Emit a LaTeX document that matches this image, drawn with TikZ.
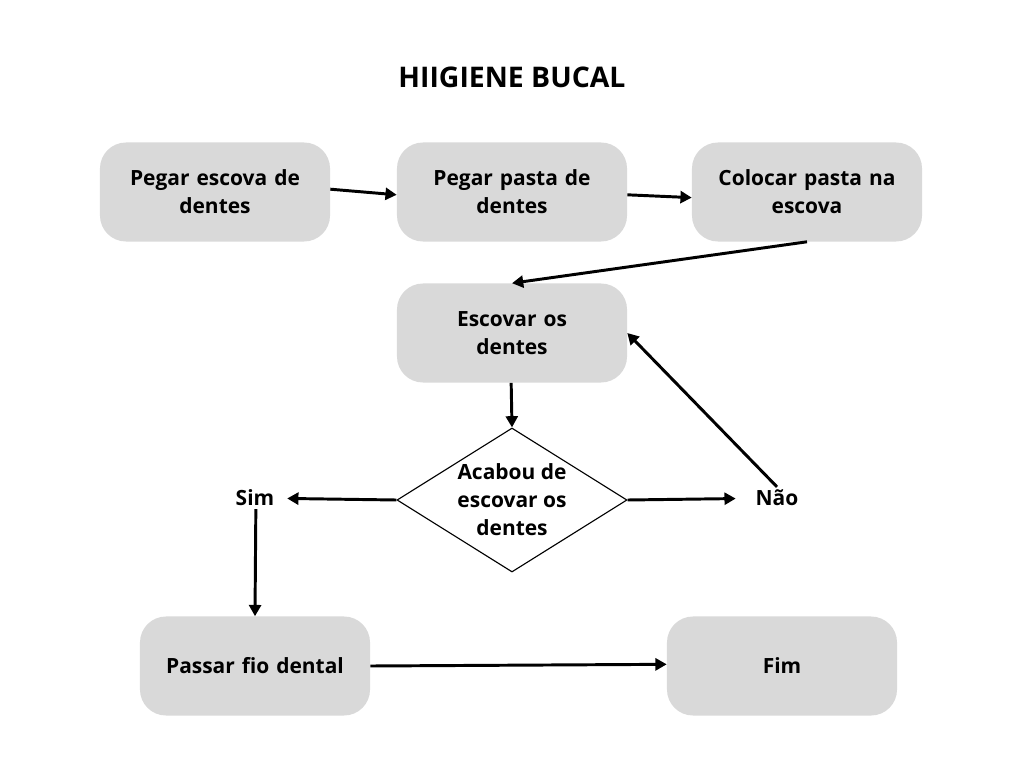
\documentclass[tikz,border=0pt]{standalone}
\usepackage{fontspec}
\setmainfont{Open Sans}
\usetikzlibrary{arrows.meta,shapes.geometric,positioning}

\begin{document}
\begin{tikzpicture}[x=0.025cm,y=-0.025cm,
	>={Triangle[length=8pt,width=8.5pt]},
	font=\bfseries\fontsize{14.9}{20}\selectfont,
	flow/.style={->,line width=2.1pt},
	stepbox/.style={rectangle,rounded corners=0.65cm,fill=boxgray,draw=none,
		minimum width=5.75cm,minimum height=2.475cm,text width=5.2cm,align=center},
	ask/.style={diamond,draw,line width=0.8pt,fill=white,shape aspect=1.6,
		minimum width=5.75cm,minimum height=3.6cm,inner sep=0pt,align=center},
	answer/.style={inner sep=2pt}]

	\definecolor{boxgray}{HTML}{D9D9D9}
	\useasboundingbox (0,0) rectangle (1024,768);

	\node[font=\bfseries\fontsize{20.2}{24}\selectfont] (title) at (512,77) {HIIGIENE BUCAL};

	\node[stepbox] (1) at (215,192) {Pegar escova de\\dentes};
	\node[stepbox] (2) at (512,192) {Pegar pasta de\\dentes};
	\node[stepbox] (3) at (807,192) {Colocar pasta na\\escova};
	\node[stepbox] (4) at (512,333) {Escovar os\\dentes};
	\node[ask] (5) at (512,500) {Acabou de\\escovar os\\dentes};
	\node[answer] (sim) at (255,498) {Sim};
	\node[answer] (nao) at (777,498) {Não};
	\node[stepbox] (6) at (255,666) {Passar fio dental};
	\node[stepbox] (7) at (782,666) {Fim};

	% slight tilt keeps the thick strokes from being drawn as hairlines
	\draw[flow] ([yshift=2pt]1.east) -- ([yshift=-2pt]2.west);
	\draw[flow] ([yshift=-2pt]2.east) -- ([yshift=-4pt]3.west);
	\draw[flow] (3.south) -- (4.north);
	\draw[flow] ([xshift=-0.6pt]4.south) -- (5.north);
	\draw[flow,shorten >=7pt] (5.west) -- (sim);
	\draw[flow,shorten >=12pt] (5.east) -- (nao);
	\draw[flow] (nao.north) -- (4.east);
	\draw[flow] ([xshift=0.6pt]sim.south) -- (6.north);
	\draw[flow] (6.east) -- ([yshift=1.2pt]7.west);
\end{tikzpicture}
\end{document}
